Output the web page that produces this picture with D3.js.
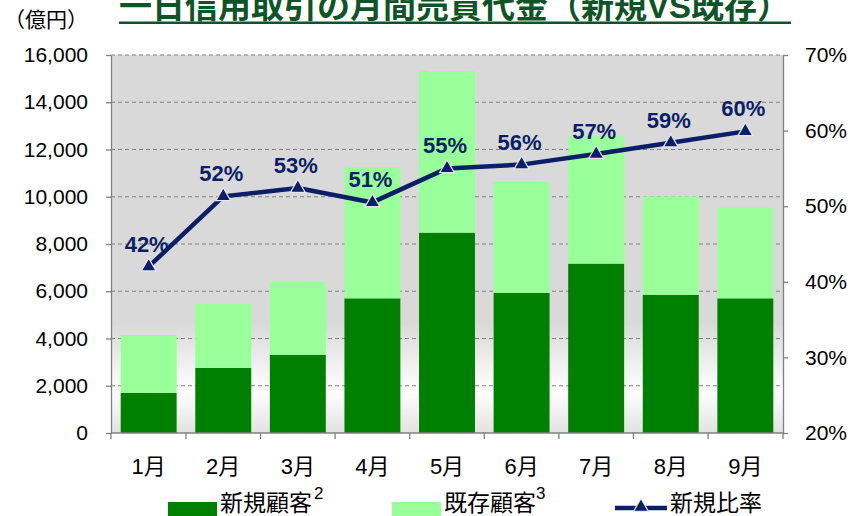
<!DOCTYPE html>
<html>
<head>
<meta charset="utf-8">
<title>一日信用取引の月間売買代金</title>
<script src="https://d3js.org/d3.v7.min.js"></script>
<style>
    body { margin: 0; background: #fff; }
    svg { display: block; }
    text { font-family: "Liberation Sans", Arial, "Noto Sans CJK JP", sans-serif; fill: #000; }
    .grid line { stroke: #808080; stroke-dasharray: 4,3; stroke-width: 1; }
    .axis path, .axis line { stroke: #808080; stroke-width: 1.3; }
</style>
</head>
<body>
<svg width="852" height="516"></svg>
<script>
    // 月
    var months = ["1月", "2月", "3月", "4月", "5月", "6月", "7月", "8月", "9月"];
    // 新規顧客 (億円)
    var newCustomers = [1700, 2760, 3310, 5700, 8480, 5930, 7170, 5850, 5700];
    // 既存顧客 (億円)
    var existingCustomers = [2450, 2700, 3090, 5550, 6840, 4690, 5390, 4170, 3850];
    // 新規比率 (%)
    var newRatio = [42.0, 51.3, 52.4, 50.5, 55.0, 55.5, 56.9, 58.4, 59.9];
    var ratioLabels = ["42%", "52%", "53%", "51%", "55%", "56%", "57%", "59%", "60%"];

    var leftTicks = [0, 2000, 4000, 6000, 8000, 10000, 12000, 14000, 16000];
    var rightTicks = [20, 30, 40, 50, 60, 70];

    var svg = d3.select("svg");
    var plotL = 111, plotR = 783, plotT = 55, plotB = 433;

    var x = d3.scaleBand().domain(months).range([plotL, plotR])
            .paddingInner(0.25).paddingOuter(0.13);
    var y = d3.scaleLinear().domain([0, 16000]).range([plotB, plotT]);
    var y2 = d3.scaleLinear().domain([20, 70]).range([plotB, plotT]);

    // 背景グラデーション
    var defs = svg.append("defs");
    var grad = defs.append("linearGradient").attr("id", "bg")
            .attr("x1", 0).attr("y1", 0).attr("x2", 0).attr("y2", 1);
    grad.append("stop").attr("offset", "0%").attr("stop-color", "#d9d9d9");
    grad.append("stop").attr("offset", "71%").attr("stop-color", "#d9d9d9");
    grad.append("stop").attr("offset", "89%").attr("stop-color", "#ffffff");
    grad.append("stop").attr("offset", "100%").attr("stop-color", "#e2e2e2");

    svg.append("rect")
            .attr("x", plotL).attr("y", plotT)
            .attr("width", plotR - plotL).attr("height", plotB - plotT)
            .attr("fill", "url(#bg)");

    // グリッド線
    svg.append("g").attr("class", "grid")
            .selectAll("line")
            .data(leftTicks.filter(function (d) { return d > 0; }))
            .enter().append("line")
            .attr("x1", plotL).attr("x2", plotR)
            .attr("y1", function (d) { return y(d); })
            .attr("y2", function (d) { return y(d); });

    // 積み上げ棒
    var stacked = months.map(function (m, i) {
        return { month: m, n: newCustomers[i], e: existingCustomers[i] };
    });
    var series = d3.stack().keys(["n", "e"])(stacked);
    var barColor = { n: "#008000", e: "#99ff99" };

    svg.append("g").selectAll("g")
            .data(series)
            .enter().append("g")
            .attr("fill", function (d) { return barColor[d.key]; })
            .selectAll("rect")
            .data(function (d) { return d; })
            .enter().append("rect")
            .attr("x", function (d) { return x(d.data.month); })
            .attr("width", x.bandwidth())
            .attr("y", function (d) { return y(d[1]); })
            .attr("height", function (d) { return y(d[0]) - y(d[1]); });

    // 軸
    svg.append("g").attr("class", "axis")
            .attr("transform", "translate(" + plotL + ",0)")
            .call(d3.axisLeft(y).tickValues(leftTicks).tickSize(5).tickSizeOuter(0)
                    .tickPadding(18).tickFormat(d3.format(",")));
    svg.append("g").attr("class", "axis")
            .attr("transform", "translate(" + plotR + ",0)")
            .call(d3.axisRight(y2).tickValues(rightTicks).tickSize(5).tickSizeOuter(0)
                    .tickPadding(17).tickFormat(function (d) { return d + "%"; }));
    svg.selectAll(".axis text").attr("font-size", 21).attr("fill", "#000");

    var bx = svg.append("g").attr("class", "axis");
    bx.append("line").attr("x1", plotL).attr("x2", plotR)
            .attr("y1", plotB).attr("y2", plotB);
    var bounds = months.map(function (m) { return x(m) - x.step() * x.paddingInner() / 2; });
    bounds[0] = plotL;
    bounds.push(plotR);
    bx.selectAll("line.tk").data(bounds).enter().append("line")
            .attr("class", "tk")
            .attr("x1", function (d) { return d; }).attr("x2", function (d) { return d; })
            .attr("y1", plotB).attr("y2", plotB + 6);

    svg.append("g").selectAll("text")
            .data(months)
            .enter().append("text")
            .attr("x", function (d) { return x(d) + x.bandwidth() / 2; })
            .attr("y", 474)
            .attr("text-anchor", "middle")
            .attr("font-size", 22)
            .text(function (d) { return d; });

    // 新規比率 折れ線
    var navy = "#0b1f66";
    var pts = months.map(function (m, i) {
        return [x(m) + x.bandwidth() / 2, y2(newRatio[i])];
    });
    svg.append("path")
            .attr("d", d3.line()(pts))
            .attr("fill", "none")
            .attr("stroke", navy)
            .attr("stroke-width", 4.5)
            .attr("stroke-linejoin", "round");

    var tri = d3.symbol().type(d3.symbolTriangle).size(95);
    svg.append("g").selectAll("path")
            .data(pts)
            .enter().append("path")
            .attr("d", tri)
            .attr("transform", function (d) { return "translate(" + d[0] + "," + d[1] + ")"; })
            .attr("fill", navy)
            .attr("stroke", "#e8e4f4")
            .attr("stroke-width", 1.2);

    svg.append("g").selectAll("text")
            .data(pts)
            .enter().append("text")
            .attr("x", function (d) { return d[0] - 2; })
            .attr("y", function (d) { return d[1] - 15; })
            .attr("text-anchor", "middle")
            .attr("font-size", 22)
            .attr("font-weight", "bold")
            .style("fill", navy)
            .text(function (d, i) { return ratioLabels[i]; });

    // タイトル
    var titleColor = "#0d5526";
    svg.append("text")
            .attr("x", 119).attr("y", 18)
            .attr("font-size", 33)
            .attr("font-weight", "bold")
            .attr("textLength", 671)
            .attr("lengthAdjust", "spacingAndGlyphs")
            .style("fill", titleColor)
            .text("一日信用取引の月間売買代金（新規VS既存）");
    svg.append("rect")
            .attr("x", 119).attr("y", 21.5)
            .attr("width", 672).attr("height", 2.5)
            .attr("fill", titleColor);

    svg.append("text")
            .attr("x", 4).attr("y", 27)
            .attr("font-size", 21)
            .text("（億円）");

    // 凡例
    var legend = svg.append("g");
    legend.append("rect").attr("x", 168).attr("y", 502).attr("width", 49).attr("height", 16)
            .attr("fill", barColor.n);
    var t1 = legend.append("text").attr("x", 220).attr("y", 511).attr("font-size", 23);
    t1.append("tspan").text("新規顧客");
    t1.append("tspan").attr("font-size", 17).attr("dy", -12).attr("dx", 2).text("2");

    legend.append("rect").attr("x", 392).attr("y", 502).attr("width", 49).attr("height", 16)
            .attr("fill", barColor.e);
    var t2 = legend.append("text").attr("x", 444).attr("y", 511).attr("font-size", 23);
    t2.append("tspan").text("既存顧客");
    t2.append("tspan").attr("font-size", 17).attr("dy", -12).attr("dx", 0).text("3");

    legend.append("line").attr("x1", 615).attr("x2", 667).attr("y1", 508).attr("y2", 508)
            .attr("stroke", navy).attr("stroke-width", 4.5);
    legend.append("path").attr("d", tri)
            .attr("transform", "translate(641,507)")
            .attr("fill", navy).attr("stroke", "#e8e4f4").attr("stroke-width", 1.2);
    legend.append("text").attr("x", 670).attr("y", 511).attr("font-size", 23).text("新規比率");
</script>
</body>
</html>
